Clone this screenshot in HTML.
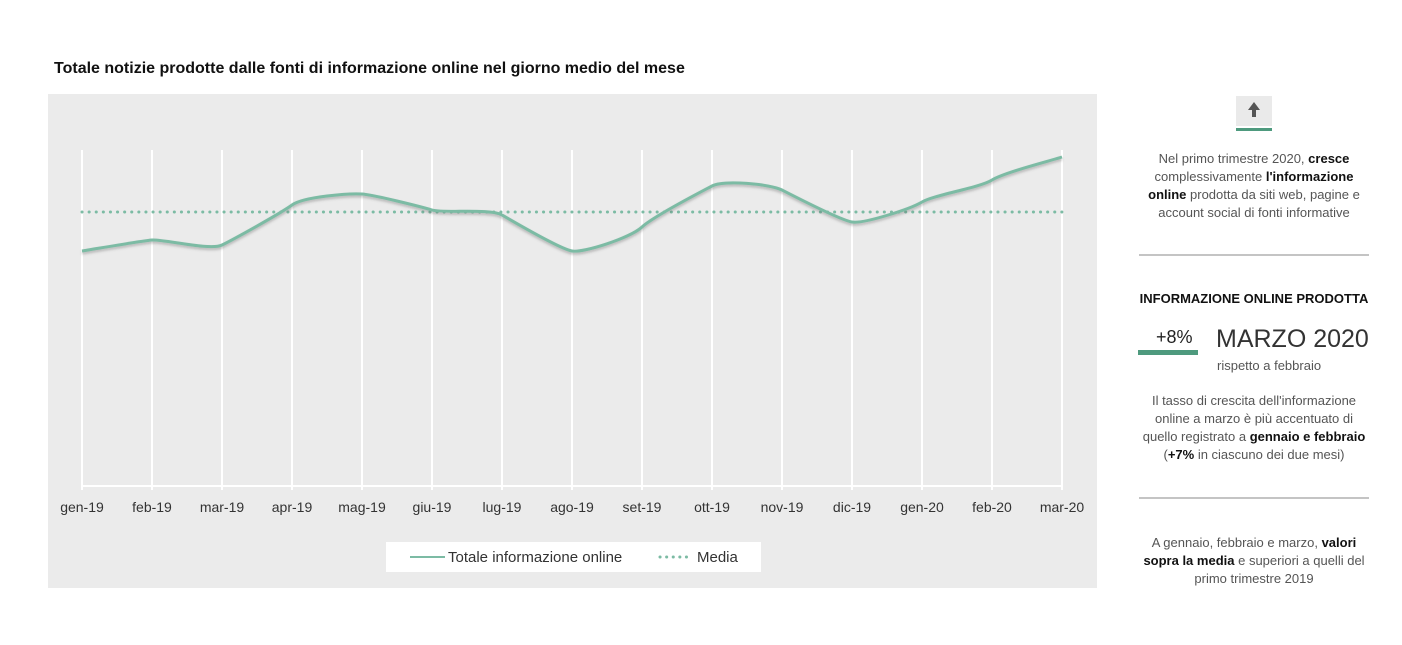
<!DOCTYPE html>
<html><head><meta charset="utf-8"><style>
body{margin:0;width:1402px;height:645px;background:#fff;font-family:"Liberation Sans",sans-serif;position:relative;overflow:hidden}
.t{position:absolute;color:#555;font-size:13px;text-align:center;line-height:18px}
b{color:#111}
</style></head><body>
<div style="position:absolute;left:54px;top:60px;font-size:16px;font-weight:bold;color:#111">Totale notizie prodotte dalle fonti di informazione online nel giorno medio del mese</div>
<svg style="position:absolute;left:0;top:0" width="1402" height="645">
<defs><filter id="sh"><feDropShadow dx="0" dy="2" stdDeviation="1.2" flood-color="#555" flood-opacity="0.35"/></filter></defs>
<rect x="48" y="94" width="1049" height="494" fill="#ebebeb"/>
<g stroke="#fff" stroke-width="2">
<line x1="82" y1="150" x2="82" y2="490"/><line x1="152" y1="150" x2="152" y2="490"/><line x1="222" y1="150" x2="222" y2="490"/><line x1="292" y1="150" x2="292" y2="490"/><line x1="362" y1="150" x2="362" y2="490"/><line x1="432" y1="150" x2="432" y2="490"/><line x1="502" y1="150" x2="502" y2="490"/><line x1="572" y1="150" x2="572" y2="490"/><line x1="642" y1="150" x2="642" y2="490"/><line x1="712" y1="150" x2="712" y2="490"/><line x1="782" y1="150" x2="782" y2="490"/><line x1="852" y1="150" x2="852" y2="490"/><line x1="922" y1="150" x2="922" y2="490"/><line x1="992" y1="150" x2="992" y2="490"/><line x1="1062" y1="150" x2="1062" y2="490"/>
<line x1="82" y1="486" x2="1062" y2="486"/>
</g>
<line x1="82" y1="212" x2="1062" y2="212" stroke="#7cbba4" stroke-width="3" stroke-dasharray="0.1 7" stroke-linecap="round"/>
<path filter="url(#sh)" fill="none" stroke="#7cbba4" stroke-width="3" d="M82,251 C93.7,249.2 140.3,241 152,240 C163.7,239 210.3,250.8 222,245 C233.7,239.2 280.3,213.5 292,205 C303.7,196.5 350.3,193.2 362,194 C373.7,194.8 420.3,206.5 432,210 C443.7,213.5 490.3,208.2 502,215 C513.7,221.8 560.3,249 572,251 C583.7,253 630.3,237.8 642,227 C653.7,216.2 700.3,192.2 712,186 C723.7,179.8 770.3,184 782,190 C793.7,196 840.3,220 852,222 C863.7,224 910.3,209 922,202 C933.7,195 980.3,187.5 992,180 C1003.7,172.5 1050.3,160.8 1062,157"/>
<g font-family="Liberation Sans,sans-serif" font-size="14" fill="#333" text-anchor="middle">
<text x="82" y="512">gen-19</text><text x="152" y="512">feb-19</text><text x="222" y="512">mar-19</text><text x="292" y="512">apr-19</text><text x="362" y="512">mag-19</text><text x="432" y="512">giu-19</text><text x="502" y="512">lug-19</text><text x="572" y="512">ago-19</text><text x="642" y="512">set-19</text><text x="712" y="512">ott-19</text><text x="782" y="512">nov-19</text><text x="852" y="512">dic-19</text><text x="922" y="512">gen-20</text><text x="992" y="512">feb-20</text><text x="1062" y="512">mar-20</text>
</g>
<rect x="386" y="542" width="375" height="30" fill="#fff"/>
<line x1="410" y1="557" x2="445" y2="557" stroke="#7cbba4" stroke-width="2"/>
<text x="448" y="562" font-family="Liberation Sans,sans-serif" font-size="15" fill="#333">Totale informazione online</text>
<line x1="660" y1="557" x2="692" y2="557" stroke="#7cbba4" stroke-width="3" stroke-dasharray="0.1 6.5" stroke-linecap="round"/>
<text x="697" y="562" font-family="Liberation Sans,sans-serif" font-size="15" fill="#333">Media</text>
<rect x="1236" y="96" width="36" height="30" fill="#eaeaea"/>
<path d="M1254,102 l-6,8 h4 v7 h4 v-7 h4z" fill="#555"/>
<rect x="1236" y="128" width="36" height="3" fill="#4e9a7e"/>
<line x1="1139" y1="255" x2="1369" y2="255" stroke="#888" stroke-width="1"/>
<line x1="1139" y1="498" x2="1369" y2="498" stroke="#888" stroke-width="1"/>
<rect x="1138" y="350" width="60" height="5" fill="#4e9a7e"/>
</svg>
<div class="t" style="left:1124px;top:150px;width:260px">Nel primo trimestre 2020, <b>cresce</b><br>complessivamente <b>l'informazione<br>online</b> prodotta da siti web, pagine e<br>account social di fonti informative</div>
<div style="position:absolute;left:1118px;top:291px;width:272px;text-align:center;font-weight:bold;font-size:13px;color:#111">INFORMAZIONE ONLINE PRODOTTA</div>
<div style="position:absolute;left:1156px;top:327px;font-size:18px;color:#222">+8%</div>
<div style="position:absolute;left:1216px;top:325px;font-size:25px;color:#333">MARZO 2020</div>
<div style="position:absolute;left:1217px;top:358px;font-size:13px;color:#555">rispetto a febbraio</div>
<div class="t" style="left:1124px;top:392px;width:260px">Il tasso di crescita dell'informazione<br>online a marzo è più accentuato di<br>quello registrato a <b>gennaio e febbraio</b><br>(<b>+7%</b> in ciascuno dei due mesi)</div>
<div class="t" style="left:1124px;top:534px;width:260px">A gennaio, febbraio e marzo, <b>valori<br>sopra la media</b> e superiori a quelli del<br>primo trimestre 2019</div>
</body></html>
